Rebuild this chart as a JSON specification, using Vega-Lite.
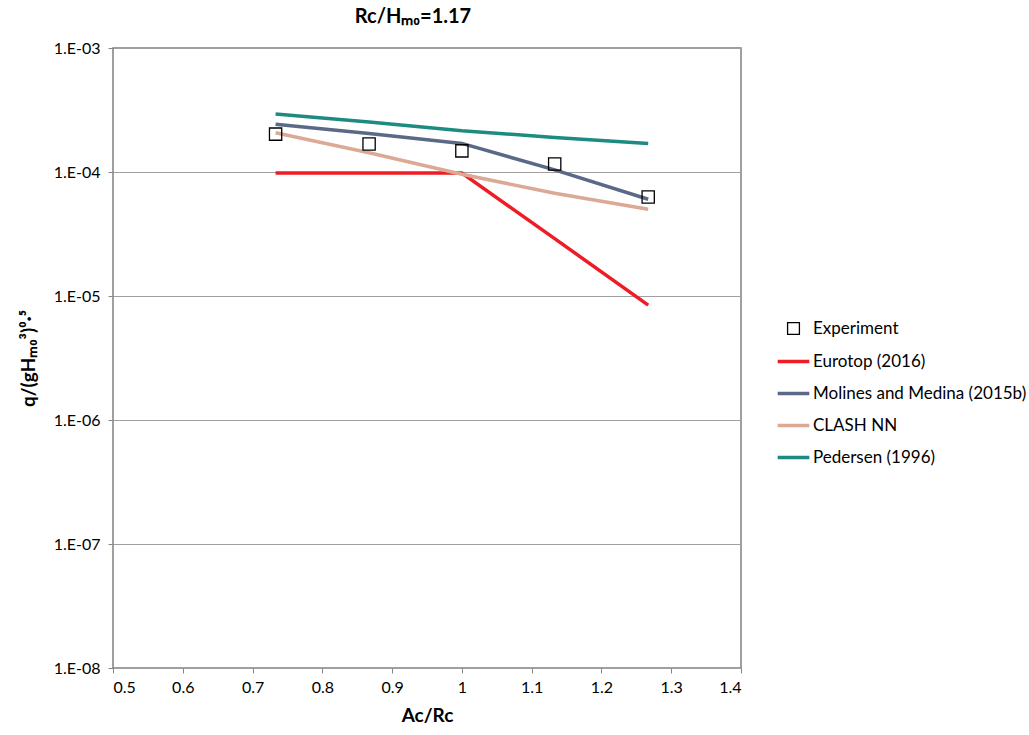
{
  "$schema": "https://vega.github.io/schema/vega-lite/v6.json",
  "autosize": {"type": "none"},
  "padding": {"left": 113, "top": 48, "right": 288, "bottom": 67},
  "width": 628,
  "height": 620,
  "background": "white",
  "config": {
    "font": "Lato",
    "view": {"stroke": "#808080", "strokeWidth": 1.5}
  },
  "title": {
    "text": "Rc/Hₘ₀=1.17",
    "fontSize": 20,
    "fontWeight": "bold",
    "color": "#000000",
    "anchor": "middle",
    "dx": -14,
    "offset": 13
  },
  "data": {
    "values": [
      {"series": "Experiment", "x": 0.733, "q": 0.000202},
      {"series": "Experiment", "x": 0.867, "q": 0.000168},
      {"series": "Experiment", "x": 1.0, "q": 0.000148},
      {"series": "Experiment", "x": 1.133, "q": 0.000116},
      {"series": "Experiment", "x": 1.267, "q": 0.0000628},
      {"series": "Eurotop (2016)", "x": 0.733, "q": 0.000098},
      {"series": "Eurotop (2016)", "x": 0.867, "q": 0.000098},
      {"series": "Eurotop (2016)", "x": 1.0, "q": 0.000098},
      {"series": "Eurotop (2016)", "x": 1.133, "q": 0.000029},
      {"series": "Eurotop (2016)", "x": 1.267, "q": 0.00000845},
      {"series": "Molines and Medina (2015b)", "x": 0.733, "q": 0.000243},
      {"series": "Molines and Medina (2015b)", "x": 0.867, "q": 0.000204},
      {"series": "Molines and Medina (2015b)", "x": 1.0, "q": 0.00017},
      {"series": "Molines and Medina (2015b)", "x": 1.133, "q": 0.000104},
      {"series": "Molines and Medina (2015b)", "x": 1.267, "q": 0.0000603},
      {"series": "CLASH NN", "x": 0.733, "q": 0.000207},
      {"series": "CLASH NN", "x": 0.867, "q": 0.000143},
      {"series": "CLASH NN", "x": 1.0, "q": 0.000096},
      {"series": "CLASH NN", "x": 1.133, "q": 0.0000673},
      {"series": "CLASH NN", "x": 1.267, "q": 0.00005},
      {"series": "Pedersen (1996)", "x": 0.733, "q": 0.000294},
      {"series": "Pedersen (1996)", "x": 0.867, "q": 0.000253},
      {"series": "Pedersen (1996)", "x": 1.0, "q": 0.000215},
      {"series": "Pedersen (1996)", "x": 1.133, "q": 0.00019},
      {"series": "Pedersen (1996)", "x": 1.267, "q": 0.00017}
    ]
  },
  "encoding": {
    "x": {
      "field": "x",
      "type": "quantitative",
      "scale": {"domain": [0.5, 1.4], "nice": false, "zero": false},
      "axis": {
        "title": "Ac/Rc",
        "values": [0.5, 0.6, 0.7, 0.8, 0.9, 1.0, 1.1, 1.2, 1.3, 1.4],
        "labelExpr": "format(datum.value, '.1~f')",
        "grid": false,
        "domain": false,
        "tickColor": "#868686",
        "tickSize": 5,
        "labelFontSize": 16,
        "labelColor": "#000000",
        "labelPadding": 6,
        "titleFontSize": 19,
        "titleFontWeight": "bold",
        "titleColor": "#000000",
        "titlePadding": 11
      }
    },
    "y": {
      "field": "q",
      "type": "quantitative",
      "scale": {"type": "log", "domain": [1e-8, 0.001], "nice": false},
      "axis": {
        "title": "q/(gHₘ₀³)⁰·⁵",
        "values": [1e-8, 1e-7, 1e-6, 1e-5, 1e-4, 1e-3],
        "labelExpr": "'1.E-0' + round(-log(datum.value) / LN10)",
        "grid": true,
        "gridColor": "#a0a0a0",
        "gridWidth": 1,
        "domain": false,
        "tickColor": "#868686",
        "tickSize": 5,
        "labelFontSize": 16,
        "labelColor": "#000000",
        "labelPadding": 8,
        "titleFontSize": 19,
        "titleFontWeight": "bold",
        "titleColor": "#000000",
        "titlePadding": 15
      }
    },
    "color": {
      "field": "series",
      "type": "nominal",
      "scale": {
        "domain": ["Experiment", "Eurotop (2016)", "Molines and Medina (2015b)", "CLASH NN", "Pedersen (1996)"],
        "range": ["#000000", "#ee1c25", "#5a6985", "#dba994", "#1e8b80"]
      },
      "legend": {
        "title": null,
        "orient": "none",
        "legendX": 672,
        "legendY": 272,
        "labelFontSize": 17,
        "labelColor": "#000000",
        "labelLimit": 400,
        "symbolSize": 900,
        "rowPadding": 14,
        "labelOffset": 11,
        "symbolStrokeWidth": 3.5,
        "encode": {
          "symbols": {
            "update": {
              "strokeWidth": {"signal": "datum.value === 'Experiment' ? 1.3 : 3.5"},
              "size": {"signal": "datum.value === 'Experiment' ? 140 : 1000"}
            }
          }
        }
      }
    }
  },
  "layer": [
    {
      "transform": [{"filter": "datum.series !== 'Experiment'"}],
      "mark": {"type": "line", "strokeWidth": 3.5, "interpolate": "linear"},
      "encoding": {}
    },
    {
      "transform": [{"filter": "datum.series === 'Experiment'"}],
      "mark": {"type": "point", "filled": false, "size": 150, "strokeWidth": 1.3, "opacity": 1},
      "encoding": {
        "shape": {
          "field": "series",
          "type": "nominal",
          "scale": {
            "domain": ["Experiment", "Eurotop (2016)", "Molines and Medina (2015b)", "CLASH NN", "Pedersen (1996)"],
            "range": ["square", "stroke", "stroke", "stroke", "stroke"]
          }
        }
      }
    }
  ]
}
